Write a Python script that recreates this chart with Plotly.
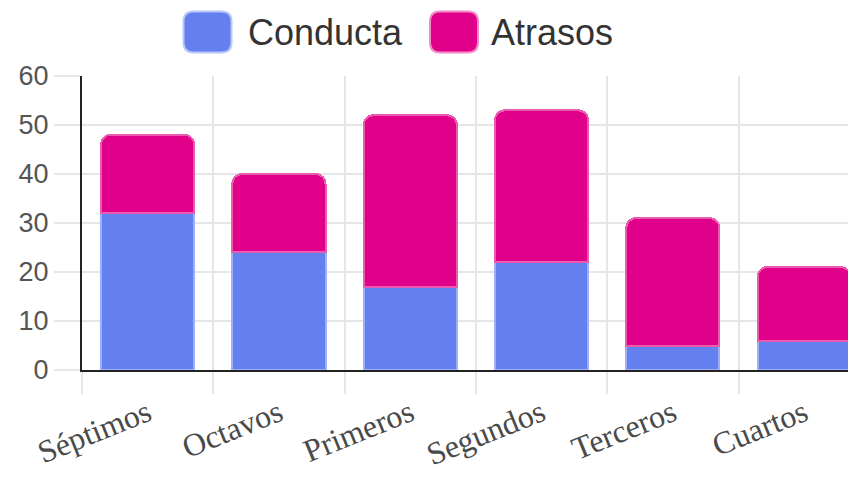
import plotly.graph_objects as go

categories = ["Séptimos", "Octavos", "Primeros", "Segundos", "Terceros", "Cuartos"]
conducta = [32, 24, 17, 22, 5, 6]
atrasos = [16, 16, 35, 31, 26, 15]
series_names = ["Conducta", "Atrasos"]
y_ticks = [0, 10, 20, 30, 40, 50, 60]

blue = "#6480EE"
magenta = "#E0008A"

fig = go.Figure()
fig.add_trace(go.Bar(x=categories, y=conducta, name=series_names[0],
                     marker=dict(color=blue, line=dict(color="#9db0f5", width=2))))
fig.add_trace(go.Bar(x=categories, y=atrasos, name=series_names[1],
                     marker=dict(color=magenta, line=dict(color="#ea5aae", width=2))))

OFF = 8  # page body margin
W, H = 856 - OFF, 479 - OFF
L, R, T, B = 82 - OFF, 0, 76 - OFF, 109
plot_w = W - L - R
plot_h = H - T - B
cat_px = 131.3
x_hi = -0.5 + plot_w / cat_px

fig.update_layout(
    width=W, height=H,
    margin=dict(l=L, r=R, t=T, b=B, pad=0),
    barmode="stack", bargap=0.29, barcornerradius=10,
    plot_bgcolor="white", paper_bgcolor="white",
    showlegend=False,
    xaxis=dict(type="category", range=[-0.5, x_hi], tickson="boundaries", automargin=False,
               showgrid=True, gridcolor="#e6e6e9", gridwidth=2,
               ticks="outside", ticklen=22, tickcolor="#e6e6e9", tickwidth=2,
               showline=True, linecolor="#222222", linewidth=2,
               tickangle=-22, ticklabelstandoff=10,
               tickfont=dict(family="Liberation Serif", size=32, color="#4a4a4a")),
    yaxis=dict(range=[0, 60], tickvals=y_ticks, automargin=False,
               showgrid=True, gridcolor="#e6e6e9", gridwidth=2,
               ticks="outside", ticklen=26, tickcolor="#e6e6e9", tickwidth=2,
               showline=True, linecolor="#222222", linewidth=2, zeroline=False,
               tickfont=dict(family="Liberation Sans", size=27, color="#555555")),
)

# custom legend with rounded swatches
def rounded_path(w, h, r):
    x0, x1, y0, y1 = -w / 2, w / 2, -h / 2, h / 2
    return (f"M {x0+r},{y0} L {x1-r},{y0} Q {x1},{y0} {x1},{y0+r} L {x1},{y1-r} "
            f"Q {x1},{y1} {x1-r},{y1} L {x0+r},{y1} Q {x0},{y1} {x0},{y1-r} "
            f"L {x0},{y0+r} Q {x0},{y0} {x0+r},{y0} Z")

def px_x(px):
    return (px - OFF - L) / plot_w

def px_y(py):
    return (H - B - (py - OFF)) / plot_h

legend_items = [(series_names[0], blue, "#b8c6f8", 207.5, 246),
                (series_names[1], magenta, "#f08cc8", 454, 489)]
for name, col, edge, cx, tx in legend_items:
    fig.add_shape(type="path", xref="paper", yref="paper", xsizemode="pixel", ysizemode="pixel",
                  xanchor=px_x(cx), yanchor=px_y(32), path=rounded_path(48, 41, 10),
                  fillcolor=col, line=dict(color=edge, width=2), layer="above")
    fig.add_annotation(x=px_x(tx), y=px_y(32), xref="paper", yref="paper", text=name,
                       showarrow=False, xanchor="left", yanchor="middle",
                       font=dict(family="Liberation Sans", size=36, color="#333333"))

fig.write_html("out.html")
